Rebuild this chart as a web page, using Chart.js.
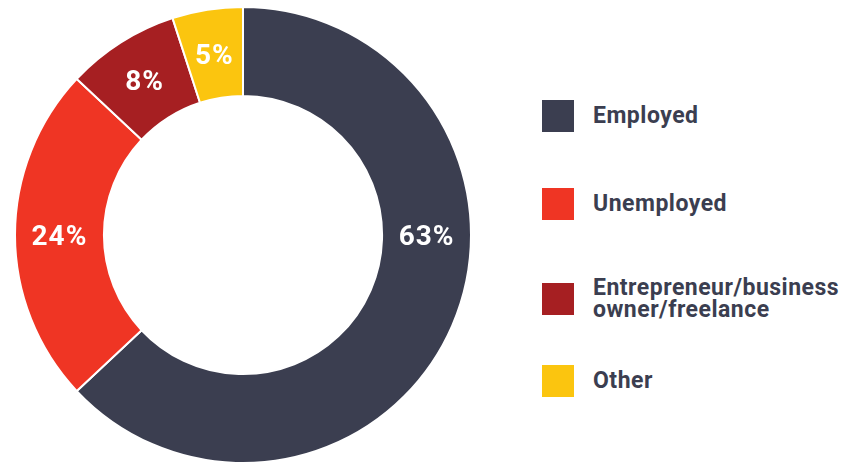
<!DOCTYPE html>
<html>
<head>
<meta charset="utf-8">
<script src="https://cdn.jsdelivr.net/npm/chart.js@4"></script>
<style>
    html, body { margin: 0; padding: 0; background: #fff; }
    body { width: 843px; height: 462px; overflow: hidden; position: relative; font-family: Roboto, sans-serif; }
    #chartBox { position: absolute; left: 14px; top: 6px; width: 458px; height: 458px; }
    #legend { position: absolute; left: 542px; top: 0; }
    .item { position: absolute; left: 0; width: 310px; display: flex; align-items: center; }
    .swatch { width: 32px; height: 32px; flex: none; }
    .txt { margin-left: 19px; font-weight: 700; font-size: 23px; line-height: 22px; letter-spacing: 0.5px; color: #3b3e50; white-space: nowrap; }
</style>
</head>
<body>
<div id="chartBox"><canvas id="donut"></canvas></div>
<div id="legend"></div>
<script>
// Datos del gráfico
const categories = ['Employed', 'Unemployed', 'Entrepreneur/business\nowner/freelance', 'Other'];
const shares = [63, 24, 8, 5];
const colors = ['#3b3e50', '#ef3524', '#a61f22', '#fbc50f'];

// Leyenda HTML (centro vertical de cada cuadro)
const legendCenters = [116, 204, 293, 381];
const legend = document.getElementById('legend');
categories.forEach((name, i) => {
    const item = document.createElement('div');
    item.className = 'item';
    item.style.top = (legendCenters[i] - 16) + 'px';
    item.innerHTML = '<div class="swatch" style="background:' + colors[i] + '"></div>' +
        '<div class="txt">' + name.replace('\n', '<br>') + '</div>';
    legend.appendChild(item);
});

// Etiquetas de porcentaje dentro de cada segmento
const sliceLabels = {
    id: 'sliceLabels',
    afterDatasetsDraw(chart) {
        const ctx = chart.ctx;
        const arcs = chart.getDatasetMeta(0).data;
        ctx.save();
        ctx.fillStyle = '#fff';
        ctx.font = 'bold 28px Roboto, sans-serif';
        ctx.letterSpacing = '1px';
        ctx.textAlign = 'center';
        ctx.textBaseline = 'middle';
        arcs.forEach((arc, i) => {
            const p = arc.getProps(['x', 'y', 'startAngle', 'endAngle', 'innerRadius', 'outerRadius']);
            // el segmento grande lleva la etiqueta a la derecha
            const ang = i === 0 ? 0 : (p.startAngle + p.endAngle) / 2;
            const r = (p.innerRadius + p.outerRadius) / 2;
            ctx.fillText(shares[i] + '%', p.x + Math.cos(ang) * r, p.y + Math.sin(ang) * r + 3);
        });
        ctx.restore();
    }
};

new Chart(document.getElementById('donut'), {
    type: 'doughnut',
    data: {
        labels: categories,
        datasets: [{
            data: shares,
            backgroundColor: colors,
            borderColor: '#fff',
            borderWidth: 2
        }]
    },
    options: {
        responsive: true,
        maintainAspectRatio: false,
        animation: false,
        cutout: '61%',
        plugins: {
            legend: { display: false },
            tooltip: { enabled: false }
        }
    },
    plugins: [sliceLabels]
});
</script>
</body>
</html>
